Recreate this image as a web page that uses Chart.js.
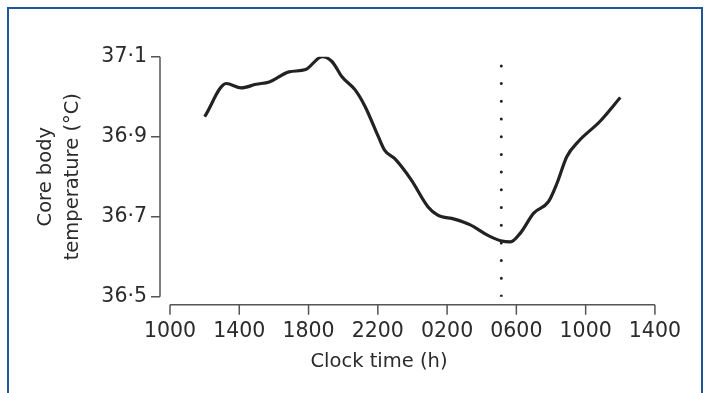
<!DOCTYPE html>
<html>
<head>
<meta charset="utf-8">
<script src="https://cdn.jsdelivr.net/npm/chart.js@4/dist/chart.umd.min.js"></script>
<style>
  html, body { margin: 0; padding: 0; background: #fff; }
  #wrap { position: relative; width: 704px; height: 393px; overflow: hidden; }
  #frame { position: absolute; left: 7px; top: 7px; width: 692px; height: 400px;
           border: 2px solid #1f5699; border-bottom: none; box-sizing: content-box; }
  canvas { position: absolute; left: 0; top: 0; }
</style>
</head>
<body>
<div id="wrap">
  <div id="frame"></div>
  <canvas id="c" width="704" height="393"></canvas>
</div>
<script>
// Time in hours from 10:00 on day 1 (24+ = next day)
const hours = [12.0, 13.25, 14.11, 14.97, 15.73, 16.87, 17.83, 18.78, 19.35, 19.93, 20.69, 21.27, 22.03, 22.41, 22.98, 23.93, 24.89, 25.46, 26.42, 27.37, 28.33, 29.09, 29.66, 30.23, 31.0, 31.86, 32.34, 32.91, 33.58, 34.82, 36.0];
const temps = [36.95, 37.033, 37.022, 37.031, 37.037, 37.062, 37.068, 37.10, 37.088, 37.05, 37.017, 36.975, 36.90, 36.865, 36.845, 36.792, 36.725, 36.704, 36.694, 36.679, 36.654, 36.64, 36.637, 36.659, 36.709, 36.738, 36.783, 36.85, 36.888, 36.938, 36.998];
const xTickValues = [10, 14, 18, 22, 26, 30, 34, 38];
const xTickLabels = ['1000', '1400', '1800', '2200', '0200', '0600', '1000', '1400'];
const yTickValues = [36.5, 36.7, 36.9, 37.1];
const yTickLabels = ['36\u00B75', '36\u00B77', '36\u00B79', '37\u00B71'];
const markerTime = [29.13];
const markerRange = [37.077, 36.5];

const FONT = 'DejaVu Sans';
const TXT = '#2b2b2b';
const AXIS = '#555555';

const axesPlugin = {
  id: 'offsetAxes',
  afterDraw(chart) {
    const {ctx, scales: {x, y}} = chart;
    const yLineX = chart.chartArea.left - 10;
    const xLineY = chart.chartArea.bottom + 8;
    ctx.save();
    ctx.strokeStyle = AXIS;
    ctx.lineWidth = 1.5;
    ctx.beginPath();
    ctx.moveTo(yLineX, y.getPixelForValue(yTickValues[yTickValues.length - 1]));
    ctx.lineTo(yLineX, y.getPixelForValue(yTickValues[0]));
    yTickValues.forEach(v => {
      const py = y.getPixelForValue(v);
      ctx.moveTo(yLineX, py);
      ctx.lineTo(yLineX - 9, py);
    });
    ctx.moveTo(x.getPixelForValue(xTickValues[0]), xLineY);
    ctx.lineTo(x.getPixelForValue(xTickValues[xTickValues.length - 1]), xLineY);
    xTickValues.forEach(v => {
      const px = x.getPixelForValue(v);
      ctx.moveTo(px, xLineY);
      ctx.lineTo(px, xLineY + 10);
    });
    ctx.stroke();
    ctx.fillStyle = TXT;
    ctx.font = '19.5px "' + FONT + '"';
    ctx.textAlign = 'center';
    ctx.textBaseline = 'middle';
    ctx.fillText('Clock time (h)', 379, 362);
    ctx.restore();
  }
};

new Chart(document.getElementById('c'), {
  type: 'scatter',
  data: {
    datasets: [
      {
        data: hours.map((h, i) => ({x: h, y: temps[i]})),
        showLine: true,
        borderColor: '#222222',
        borderWidth: 3.2,
        pointRadius: 0,
        cubicInterpolationMode: 'monotone',
        fill: false
      },
      {
        data: markerRange.map(v => ({x: markerTime[0], y: v})),
        showLine: true,
        borderColor: '#222222',
        borderWidth: 3,
        borderDash: [0, 17.7],
        borderCapStyle: 'round',
        pointRadius: 0,
        tension: 0,
        fill: false
      }
    ]
  },
  options: {
    responsive: false,
    animation: false,
    layout: { padding: { top: 56.7, right: 45, bottom: 0, left: 0 } },
    plugins: { legend: { display: false }, tooltip: { enabled: false } },
    scales: {
      x: {
        type: 'linear',
        min: 10, max: 38,
        afterBuildTicks: s => { s.ticks = xTickValues.map(v => ({value: v})); },
        afterFit: s => { s.height = 96.3; },
        grid: { display: false, drawTicks: false },
        border: { display: false },
        ticks: {
          padding: 23,
          color: TXT,
          font: { family: FONT, size: 20.5 },
          maxRotation: 0,
          autoSkip: false,
          callback: (v) => xTickLabels[xTickValues.indexOf(v)]
        }
      },
      y: {
        type: 'linear',
        min: 36.5, max: 37.1,
        afterBuildTicks: s => { s.ticks = yTickValues.map(v => ({value: v})); },
        afterFit: s => { s.width = 170; },
        grid: { display: false, drawTicks: false },
        border: { display: false },
        title: {
          display: true,
          text: ['Core body', 'temperature (\u00B0C)'],
          color: TXT,
          font: { family: FONT, size: 19.5, lineHeight: 1.38 },
          padding: { top: 32.5, bottom: 0 }
        },
        ticks: {
          padding: 23,
          color: TXT,
          font: { family: FONT, size: 20.5 },
          autoSkip: false,
          callback: (v) => yTickLabels[yTickValues.findIndex(t => Math.abs(t - v) < 1e-6)]
        }
      }
    }
  },
  plugins: [axesPlugin]
});
</script>
</body>
</html>
